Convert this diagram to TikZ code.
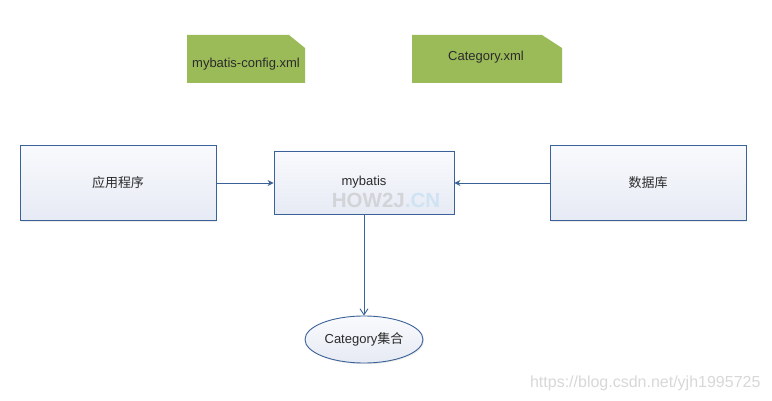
\documentclass[tikz,border=0pt]{standalone}
\usepackage{fontspec}
\setmainfont{Liberation Sans}
\newfontfamily\cjk{Noto Sans CJK SC}
\usetikzlibrary{shapes.geometric,arrows.meta,shadows}
\definecolor{edgeblue}{HTML}{3B6298}
\definecolor{topfill}{HTML}{F9FAFD}
\definecolor{botfill}{HTML}{E6EAF4}
\definecolor{docgreen}{HTML}{9BBB59}
\definecolor{txt}{HTML}{2B2B2B}
\definecolor{wmgray}{HTML}{D2D4D8}
\definecolor{wmblue}{HTML}{CFE3F2}
\definecolor{wmlight}{HTML}{D8D8D8}
\tikzset{
  box/.style={draw=edgeblue, line width=0.9pt, top color=topfill, bottom color=botfill,
    rectangle, inner sep=0pt, text=txt, font=\fontsize{13}{15}\selectfont,
    drop shadow={shadow xshift=1.2pt, shadow yshift=-1.2pt, opacity=0.15}},
  oval/.style={box, ellipse},
  conn/.style={draw=edgeblue, line width=0.9pt},
  solidtip/.style={conn, -{Stealth[length=6pt,width=6pt]}},
  opentip/.style={conn, -{Straight Barb[length=6pt,width=8pt]}},
  doctext/.style={text=txt, font=\fontsize{13}{15}\selectfont},
}
\begin{document}
\begin{tikzpicture}[x=1pt,y=-1pt]
\useasboundingbox[fill=white] (0,0) rectangle (772,401);
% documents
\fill[docgreen] (187,35) -- (289,35) -- (305,48) -- (305,83) -- (187,83) -- cycle;
\node[doctext] (cfg) at (246,64) {mybatis-config.xml};
\fill[docgreen] (412,35) -- (542,35) -- (562,48) -- (562,83) -- (412,83) -- cycle;
\node[doctext] (cat) at (486,57) {Category.xml};
% boxes
\node[box, minimum width=196pt, minimum height=75pt] (app) at (118,183) {\cjk 应用程序};
\node[box, minimum width=180pt, minimum height=63pt] (mb) at (364,182.5) {};
\node[text=txt, font=\fontsize{13}{15}\selectfont] (mbl) at (364,182) {mybatis};
\node[text=wmgray, font=\fontsize{20.5}{22}\selectfont\bfseries] (wm1) at (386,200) {HOW2J\textcolor{wmblue}{.CN}};
\node[box, minimum width=196pt, minimum height=75pt] (db) at (648,183) {\cjk 数据库};
\node[oval, minimum width=118pt, minimum height=47pt] (col) at (364,339.5) {Category{\cjk 集合}};
% connectors
\draw[solidtip] (app.east |- 0,183) -- (mb.west |- 0,183);
\draw[solidtip] (db.west |- 0,183) -- (mb.east |- 0,183);
\draw[opentip] (mb.south) -- (col.north);
% watermark
\node[text=wmlight, font=\fontsize{16}{18}\selectfont, anchor=east] (wm2) at (764,383) {https://blog.csdn.net/yjh1995725};
\end{tikzpicture}
\end{document}
